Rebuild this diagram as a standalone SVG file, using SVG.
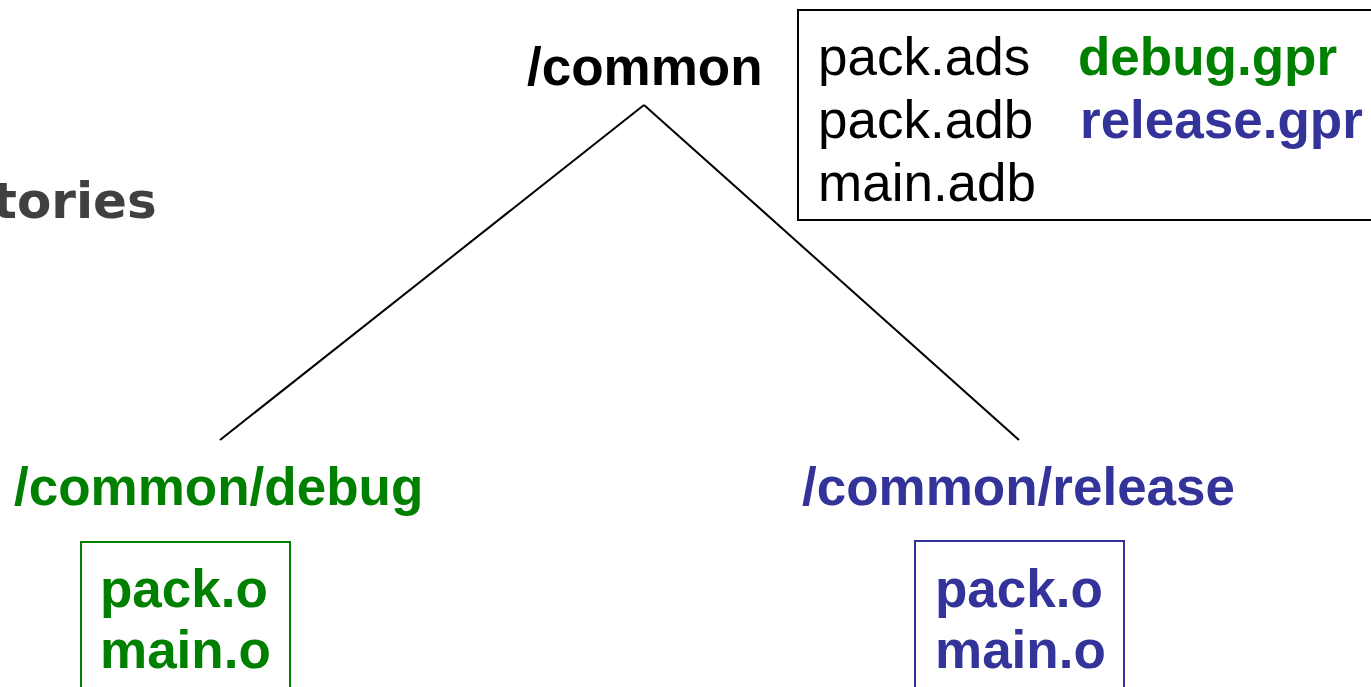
<svg xmlns="http://www.w3.org/2000/svg" width="1371" height="687" viewBox="0 0 1371 687">
<style>
text{font-family:"Liberation Sans",Arial,sans-serif;font-size:53px}
.b{font-weight:bold}
.g{fill:#008000}
.u{fill:#333399}
.k{fill:#000}
.t{font-family:"DejaVu Sans",Verdana,sans-serif;font-weight:bold;font-size:50px;fill:#404040}
</style>
<rect width="1371" height="687" fill="#fff"/>
<text class="t" x="-7" y="218">tories</text>
<g id="connectors" stroke="#000" stroke-width="2" fill="none">
<line x1="644" y1="105" x2="220" y2="440"/>
<line x1="644" y1="105" x2="1019" y2="440"/>
</g>
<g id="common">
<text class="b k" x="527" y="85">/common</text>
</g>
<g id="sources">
<rect x="798" y="10" width="600" height="210" fill="#fff" stroke="#000" stroke-width="2"/>
<text class="k" x="818" y="75">pack.ads</text>
<text class="k" x="818" y="138">pack.adb</text>
<text class="k" x="818" y="201">main.adb</text>
<text class="b g" x="1078" y="75">debug.gpr</text>
<text class="b u" x="1080" y="138">release.gpr</text>
</g>
<g id="debug">
<text class="b g" x="14" y="505">/common/debug</text>
<rect x="81" y="542" width="209" height="170" fill="#fff" stroke="#008000" stroke-width="2"/>
<text class="b g" x="100" y="607">pack.o</text>
<text class="b g" x="100" y="668">main.o</text>
</g>
<g id="release">
<text class="b u" x="802" y="505">/common/release</text>
<rect x="915" y="541" width="209" height="170" fill="#fff" stroke="#333399" stroke-width="2"/>
<text class="b u" x="935" y="607">pack.o</text>
<text class="b u" x="935" y="668">main.o</text>
</g>
</svg>
